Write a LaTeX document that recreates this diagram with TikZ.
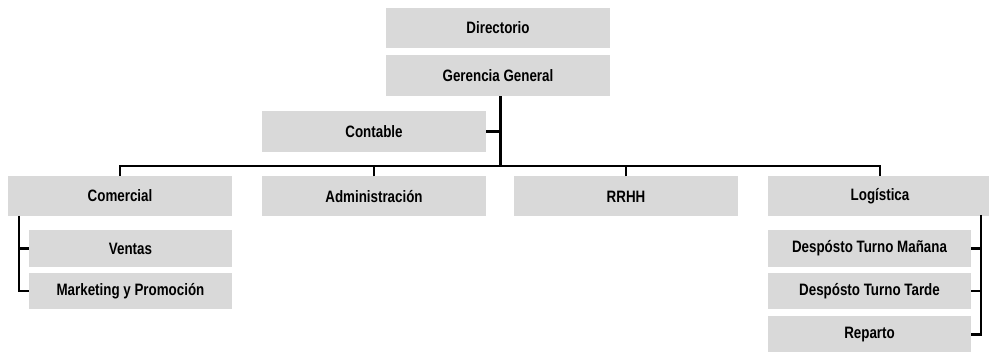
\documentclass[tikz,border=0pt]{standalone}
\usepackage{fontspec}
\setmainfont[FakeStretch=0.81]{Liberation Sans}
\begin{document}
\begin{tikzpicture}[x=1pt,y=-1pt,
  box/.style={fill=boxgray,draw=none,minimum width=224pt,minimum height=40pt,inner sep=0pt,
    font=\fontsize{16.5}{19}\selectfont\bfseries},
  subbox/.style={box,minimum width=203pt,minimum height=37pt},
  conn/.style={line width=2.2pt,draw=black}]
\definecolor{boxgray}{HTML}{D9D9D9}
\useasboundingbox (0,0) rectangle (989,352);
\node[box,minimum height=40pt] (dir) at (498,28) {Directorio};
\node[box,minimum height=41pt] (ger) at (498,75.5) {Gerencia General};
\node[box,minimum height=41pt] (cont) at (374,131.5) {Contable};
\node[box] (com) at (120,196) {Comercial};
\node[box] (adm) at (374,196.5) {Administración};
\node[box] (rrhh) at (626,196.5) {RRHH};
\node[box] (log) at (880,196) {Logística};
\node[subbox] (ven) at (130.5,248.5) {Ventas};
\node[subbox,minimum height=36pt] (mkt) at (130.5,291) {Marketing y Promoción};
\node[subbox] (dtm) at (869.5,248.5) {Despósto Turno Mañana};
\node[subbox,minimum height=36pt] (dtt) at (869.5,291) {Despósto Turno Tarde};
\node[subbox] (rep) at (869.5,334.5) {Reparto};
\coordinate (j) at (500.5,166);
\coordinate (cl) at (19,216);
\coordinate (cr) at (981,215);
\draw[conn] (ger.south -| j) -- (j);
\draw[conn] (cont.east) -- (cont.east -| j);
\draw[conn] (com.north) |- (j) -| (log.north);
\draw[conn] (adm.north) -- (adm.north |- j);
\draw[conn] (rrhh.north) -- (rrhh.north |- j);
\draw[conn] (cl) |- (mkt.west);
\draw[conn] (ven.west) -- (ven.west -| cl);
\draw[conn] (cr) |- (rep.east);
\draw[conn] (dtm.east) -- (dtm.east -| cr);
\draw[conn] (dtt.east) -- (dtt.east -| cr);
\end{tikzpicture}
\end{document}
